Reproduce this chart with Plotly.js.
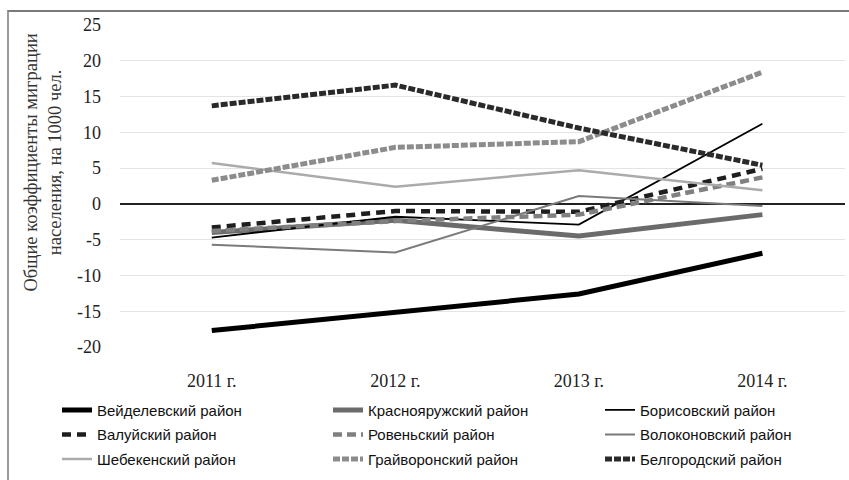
<!DOCTYPE html>
<html>
<head>
<meta charset="utf-8">
<script src="https://cdn.plot.ly/plotly-3.0.1.min.js"></script>
<style>
  html, body { margin: 0; padding: 0; background: #fff; }
  #wrap { position: relative; width: 849px; height: 480px; overflow: hidden; }
  #chart { position: absolute; left: 0; top: 0; width: 849px; height: 480px; }
  #frame { position: absolute; left: 7px; top: 10px; width: 860px; height: 480px;
           border-top: 2px solid #7a7a7a; border-left: 2px solid #9a9a9a; pointer-events: none; }
</style>
</head>
<body>
<div id="wrap"><div id="chart"></div><div id="frame"></div></div>
<script>
const years = ['2011 г.', '2012 г.', '2013 г.', '2014 г.'];
const yTicks = [-20, -15, -10, -5, 0, 5, 10, 15, 20, 25];

const veydelevsky     = [-17.7, -15.2, -12.6, -6.9];
const krasnoyaruzhsky = [-4.0, -2.3, -4.5, -1.5];
const borisovsky      = [-4.7, -1.8, -2.9, 11.2];
const valuysky        = [-3.3, -1.0, -1.1, 4.9];
const rovensky        = [-3.8, -2.4, -1.5, 3.7];
const volokonovsky    = [-5.7, -6.8, 1.1, -0.3];
const shebekinsky     = [5.7, 2.4, 4.7, 1.9];
const grayvoronsky    = [3.3, 7.9, 8.7, 18.4];
const belgorodsky     = [13.7, 16.6, 10.6, 5.4];

function tr(name, y, color, width, dash, legend) {
  return {
    type: 'scatter', mode: 'lines', x: years, y: y, name: name,
    line: { color: color, width: width, dash: dash },
    legend: legend, legendgroup: name
  };
}

const data = [
  tr('Вейделевский район', veydelevsky, '#000000', 5, 'solid', 'legend'),
  tr('Краснояружский район', krasnoyaruzhsky, '#6b6b6b', 5, 'solid', 'legend2'),
  tr('Борисовский район', borisovsky, '#000000', 1.8, 'solid', 'legend3'),
  tr('Валуйский район', valuysky, '#1e1e1e', 4.5, '9px,6px', 'legend'),
  tr('Ровеньский район', rovensky, '#808080', 4.5, '9px,5px', 'legend2'),
  tr('Волоконовский район', volokonovsky, '#7a7a7a', 2, 'solid', 'legend3'),
  tr('Шебекенский район', shebekinsky, '#ababab', 2.5, 'solid', 'legend'),
  tr('Грайворонский район', grayvoronsky, '#8c8c8c', 5, '7px,2px', 'legend2'),
  tr('Белгородский район', belgorodsky, '#2a2a2a', 5, '7px,2px', 'legend3')
];

const legFont = { family: '"Liberation Sans", Arial, sans-serif', size: 15, color: '#111' };
function leg(x) {
  return { x: x, xref: 'paper', xanchor: 'left', y: -0.145, yanchor: 'top', orientation: 'v',
           font: legFont, bgcolor: 'rgba(0,0,0,0)', tracegroupgap: 2, itemwidth: 30 };
}
const pw = 725;
const layout = {
  width: 849, height: 480,
  margin: { l: 120, r: 4, t: 25, b: 125 },
  paper_bgcolor: '#fff', plot_bgcolor: '#fff',
  showlegend: true,
  xaxis: {
    type: 'category', range: [-0.5, 3.45], showgrid: false, zeroline: false, showline: false,
    ticks: '', ticklabelstandoff: 21,
    tickfont: { family: '"Liberation Serif", "Times New Roman", serif', size: 18, color: '#222' }
  },
  yaxis: {
    range: [-20, 25], tickvals: yTicks, ticktext: yTicks.map(String),
    showgrid: true, gridcolor: '#e4e4e4', gridwidth: 1.2,
    zeroline: true, zerolinecolor: '#222', zerolinewidth: 1.5, showline: false,
    ticks: '', ticklabelstandoff: 18,
    tickfont: { family: '"Liberation Serif", "Times New Roman", serif', size: 18, color: '#222' }
  },
  annotations: [{
    text: 'Общие коэффициенты миграции<br>населения, на 1000 чел.',
    textangle: -90, xref: 'paper', yref: 'paper',
    x: (43 - 120) / pw, y: (355 - 166) / 330, xanchor: 'center', yanchor: 'middle',
    showarrow: false,
    font: { family: '"Liberation Serif", "Times New Roman", serif', size: 18.5, color: '#333' }
  }],
  legend: leg((57 - 120) / pw),
  legend2: leg((328 - 120) / pw),
  legend3: leg((600 - 120) / pw)
};

Plotly.newPlot('chart', data, layout, { displayModeBar: false, staticPlot: true });
</script>
</body>
</html>
